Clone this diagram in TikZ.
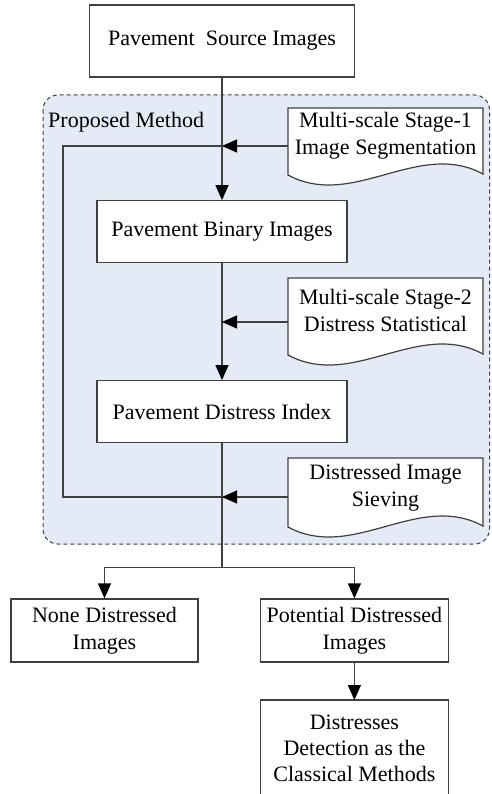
\documentclass[tikz,border=0pt]{standalone}
\usepackage{fontspec}
\setmainfont{Liberation Serif}
\usetikzlibrary{arrows.meta}
\definecolor{regionfill}{RGB}{228,235,246}
\definecolor{linegray}{RGB}{64,64,64}
\begin{document}
\begin{tikzpicture}[x=1pt,y=-1pt,
  box/.style={draw=linegray, line width=1.2pt, fill=white, inner sep=0pt,
    font=\fontsize{22}{27}\selectfont, align=center},
  txt/.style={inner sep=0pt, font=\fontsize{22}{27}\selectfont, align=center},
  conn/.style={draw=linegray, line width=1.2pt},
  arr/.style={conn, -{Triangle[length=15pt,width=13pt,color=black]}},
  docshape/.style={draw=linegray, line width=1.2pt, fill=white},
  region/.style={draw=linegray, line width=1pt, dash pattern=on 4pt off 3pt,
    rounded corners=15pt, fill=regionfill}
]
\useasboundingbox (0,0) rectangle (491,794);
\fill[white] (0,0) rectangle (491,794);

% dashed region
\draw[region] (43,95) rectangle (489.5,544);
\node[txt, anchor=base west] (pm) at (48,128) {Proposed Method};

% boxes
\node[box, minimum width=265pt, minimum height=72pt] (src) at (222,41) {Pavement\ \ Source Images};
\node[box, minimum width=250pt, minimum height=62pt] (bin) at (222,231.7) {Pavement Binary Images};
\node[box, minimum width=250pt, minimum height=62pt] (pdi) at (222,411.7) {Pavement Distress Index};
\node[box, minimum width=187pt, minimum height=63pt] (none) at (104.5,630.5) {None Distressed\\Images};
\node[box, minimum width=188pt, minimum height=63pt] (pot) at (354.4,630.5) {Potential Distressed\\Images};

% bottom box, cut by the page edge
\coordinate (detTL) at (260.5,700);
\coordinate (detTR) at (448.3,700);
\coordinate (detN) at (354.4,700);
\draw[conn] (260.5,794) -- (detTL) -- (detTR) -- (448.3,794);
\node[txt, font=\fontsize{22}{26}\selectfont] (det) at (354.4,748) {Distresses\\Detection as the\\Classical Methods};

% document shapes
\draw[docshape] (288,175) -- (288,108) -- (483,108) -- (483,174)
  .. controls (418,139) and (353,210) .. cycle;
\node[txt] (doc1) at (385.5,136) {Multi-scale Stage-1\\Image Segmentation};
\draw[docshape] (288,355) -- (288,278) -- (483,278) -- (483,354)
  .. controls (418,319) and (353,390) .. cycle;
\node[txt] (doc2) at (385.5,310) {Multi-scale Stage-2\\Distress Statistical};
\draw[docshape] (288,527) -- (288,458) -- (483,458) -- (483,526)
  .. controls (418,491) and (353,562) .. cycle;
\node[txt] (doc3) at (385.5,488) {Distressed Image\\Sieving};

% connection points
\coordinate (d1l) at (288,146);
\coordinate (d2l) at (288,322);
\coordinate (d3l) at (288,497);
\coordinate (j1) at (222,146);
\coordinate (j2) at (222,322);
\coordinate (j3) at (222,497);
\coordinate (l1) at (63,146);
\coordinate (l3) at (63,497);
\coordinate (br) at (222,567.7);

% connectors
\draw[arr] (src.south) -- (bin.north);
\draw[arr] (bin.south) -- (pdi.north);
\draw[conn] (pdi.south) -- (br);
\draw[conn] (j1) -- (l1) -- (l3) -- (j3);
\draw[arr] (d1l) -- (j1);
\draw[arr] (d2l) -- (j2);
\draw[arr] (d3l) -- (j3);
\draw[arr] (br) -| (none.north);
\draw[arr] (br) -| (pot.north);
\draw[arr] (pot.south) -- (detN);
\end{tikzpicture}
\end{document}
